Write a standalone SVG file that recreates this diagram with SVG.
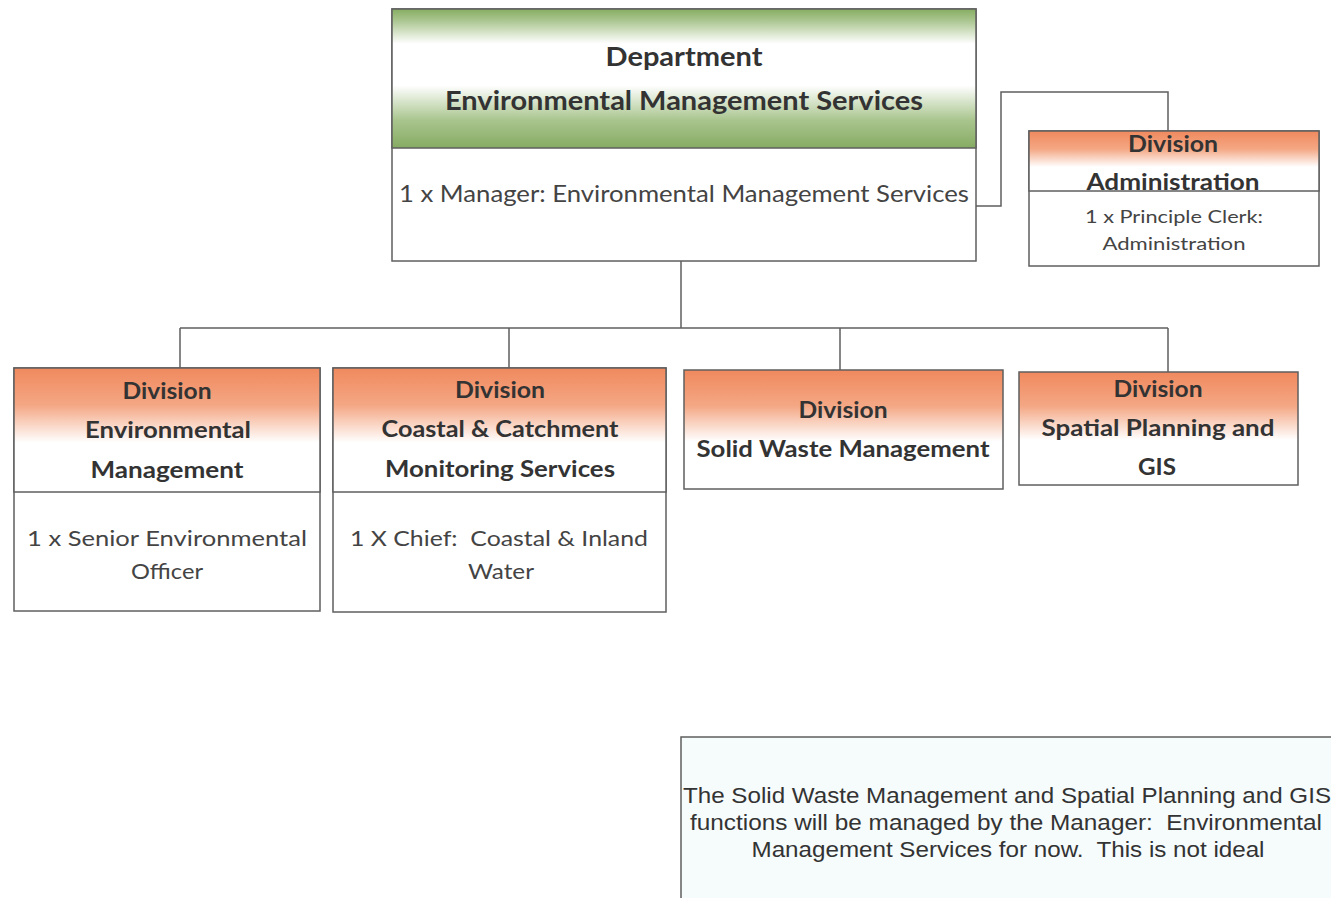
<svg xmlns="http://www.w3.org/2000/svg" width="1331" height="898" viewBox="0 0 1331 898">
<defs>
<linearGradient id="gGreen" x1="0" y1="0" x2="0" y2="1">
<stop offset="0" stop-color="#86ad62"/>
<stop offset="0.08" stop-color="#a9c58e"/>
<stop offset="0.25" stop-color="#ffffff"/>
<stop offset="0.55" stop-color="#ffffff"/>
<stop offset="0.8" stop-color="#a9c58e"/>
<stop offset="1" stop-color="#86ab63"/>
</linearGradient>
<linearGradient id="gOrange" x1="0" y1="0" x2="0" y2="1">
<stop offset="0" stop-color="#f0895e"/>
<stop offset="0.3" stop-color="#f4a784"/>
<stop offset="0.6" stop-color="#ffffff"/>
<stop offset="1" stop-color="#ffffff"/>
</linearGradient>
</defs>
<style>
.box{fill:#fff;stroke:#5f5f5f;stroke-width:1.5}
.hdr{stroke:#5f5f5f;stroke-width:1.5}
.conn{fill:none;stroke:#5f5f5f;stroke-width:1.5}
.h{font-family:Lato,"Liberation Sans",sans-serif;font-weight:bold;fill:#333;text-anchor:middle}
.b{font-family:Lato,"Liberation Sans",sans-serif;fill:#444;text-anchor:middle}
.n{font-family:"Liberation Sans",Arial,sans-serif;fill:#333;text-anchor:middle;font-size:22px}
</style>
<rect width="1331" height="898" fill="#fff"/>
<g id="connectors">
<path class="conn" d="M976 206 H1001 V92 H1168 V131"/>
<path class="conn" d="M681 261 V328"/>
<path class="conn" d="M180 328 H1168"/>
<path class="conn" d="M180 328 V368 M509 328 V368 M840 328 V371 M1168 328 V372"/>
</g>
<g id="dept">
<rect class="box" x="392" y="9" width="584" height="252"/>
<rect class="hdr" x="392" y="9" width="584" height="139" fill="url(#gGreen)"/>
<text class="h" x="684" y="66" font-size="26" textLength="157" lengthAdjust="spacingAndGlyphs">Department</text>
<text class="h" x="684" y="110" font-size="26" textLength="478" lengthAdjust="spacingAndGlyphs">Environmental Management Services</text>
<text class="b" x="684" y="202" font-size="23" textLength="570" lengthAdjust="spacingAndGlyphs">1 x Manager: Environmental Management Services</text>
</g>
<g id="admin">
<rect class="box" x="1029" y="131" width="290" height="135"/>
<rect class="hdr" x="1029" y="131" width="290" height="60" fill="url(#gOrange)"/>
<text class="h" x="1173" y="152" font-size="22" textLength="90" lengthAdjust="spacingAndGlyphs">Division</text>
<text class="h" x="1173" y="190" font-size="22" textLength="173" lengthAdjust="spacingAndGlyphs">Administration</text>
<text class="b" x="1174" y="223" font-size="18" textLength="178" lengthAdjust="spacingAndGlyphs">1 x Principle Clerk:</text>
<text class="b" x="1174" y="250" font-size="18" textLength="143" lengthAdjust="spacingAndGlyphs">Administration</text>
</g>
<g id="env">
<rect class="box" x="14" y="368" width="306" height="243"/>
<rect class="hdr" x="14" y="368" width="306" height="124" fill="url(#gOrange)"/>
<text class="h" x="167" y="399" font-size="22" textLength="89" lengthAdjust="spacingAndGlyphs">Division</text>
<text class="h" x="168" y="438" font-size="22" textLength="166" lengthAdjust="spacingAndGlyphs">Environmental</text>
<text class="h" x="167" y="478" font-size="22" textLength="153" lengthAdjust="spacingAndGlyphs">Management</text>
<text class="b" x="167" y="546" font-size="22" textLength="280" lengthAdjust="spacingAndGlyphs">1 x Senior Environmental</text>
<text class="b" x="167" y="579" font-size="22" textLength="72" lengthAdjust="spacingAndGlyphs">Officer</text>
</g>
<g id="coastal">
<rect class="box" x="333" y="368" width="333" height="244"/>
<rect class="hdr" x="333" y="368" width="333" height="124" fill="url(#gOrange)"/>
<text class="h" x="500" y="398" font-size="22" textLength="90" lengthAdjust="spacingAndGlyphs">Division</text>
<text class="h" x="500" y="437" font-size="22" textLength="237" lengthAdjust="spacingAndGlyphs">Coastal &amp; Catchment</text>
<text class="h" x="500" y="477" font-size="22" textLength="230" lengthAdjust="spacingAndGlyphs">Monitoring Services</text>
<text class="b" x="499" y="546" font-size="22" textLength="298" lengthAdjust="spacingAndGlyphs" xml:space="preserve">1 X Chief:  Coastal &amp; Inland</text>
<text class="b" x="501" y="579" font-size="22" textLength="66" lengthAdjust="spacingAndGlyphs">Water</text>
</g>
<g id="solid">
<rect class="hdr" x="684" y="370" width="319" height="119" fill="url(#gOrange)"/>
<text class="h" x="843" y="418" font-size="22" textLength="89" lengthAdjust="spacingAndGlyphs">Division</text>
<text class="h" x="843" y="457" font-size="22" textLength="293" lengthAdjust="spacingAndGlyphs">Solid Waste Management</text>
</g>
<g id="spatial">
<rect class="hdr" x="1019" y="372" width="279" height="113" fill="url(#gOrange)"/>
<text class="h" x="1158" y="397" font-size="22" textLength="89" lengthAdjust="spacingAndGlyphs">Division</text>
<text class="h" x="1158" y="436" font-size="22" textLength="233" lengthAdjust="spacingAndGlyphs">Spatial Planning and</text>
<text class="h" x="1157" y="475" font-size="22" textLength="38" lengthAdjust="spacingAndGlyphs">GIS</text>
</g>
<g id="note">
<rect x="681" y="737" width="660" height="170" fill="#f6fbfb" stroke="#5f5f5f" stroke-width="1.5"/>
<text class="n" x="1007" y="803" textLength="648" lengthAdjust="spacingAndGlyphs">The Solid Waste Management and Spatial Planning and GIS</text>
<text class="n" x="1006" y="830" textLength="632" lengthAdjust="spacingAndGlyphs" xml:space="preserve">functions will be managed by the Manager:  Environmental</text>
<text class="n" x="1008" y="857" textLength="513" lengthAdjust="spacingAndGlyphs" xml:space="preserve">Management Services for now.  This is not ideal</text>
</g>
</svg>
